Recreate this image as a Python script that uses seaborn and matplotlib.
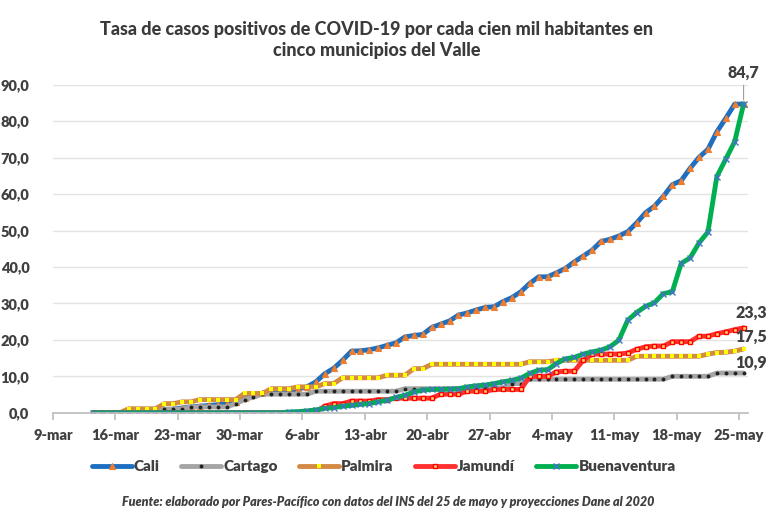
import numpy as np
import pandas as pd
import seaborn as sns
import matplotlib.pyplot as plt
import matplotlib.ticker as mticker

# tasas diarias por cada 100.000 habitantes, 13-mar a 25-may 2020
cali = [0, 0, 0, 0, 0, 0, 0, 0.3, 0.5, 1.0, 1.3, 1.6, 1.8, 2.0, 2.2, 2.5, 3.0, 4.0, 4.8, 5.3,
        5.6, 5.8, 6.0, 6.5, 7.1, 8.5, 10.7, 12.2, 14.4, 16.9, 17.0, 17.3, 17.8, 18.5, 19.2, 20.8, 21.2, 21.5, 23.4, 24.3,
        25.2, 26.8, 27.4, 28.2, 28.9, 29.1, 30.5, 31.6, 33.2, 35.5, 37.3, 37.3, 38.4, 39.6, 41.4, 43.0, 44.6, 47.0, 47.6, 48.5,
        49.7, 52.1, 54.9, 56.7, 59.4, 62.6, 63.7, 67.1, 70.1, 72.3, 77.1, 80.8, 84.7, 84.7]
cartago = [0, 0, 0, 0, 0, 0, 0, 0, 1.0, 1.0, 1.0, 1.6, 1.6, 1.6, 1.6, 1.6, 2.5, 3.6, 4.3, 5.1,
           5.1, 5.1, 5.1, 5.1, 5.1, 5.9, 5.9, 5.9, 5.9, 5.9, 5.9, 5.9, 5.9, 5.9, 5.9, 6.6, 6.6, 6.6, 6.6, 6.6,
           6.6, 6.6, 6.6, 6.8, 6.8, 6.8, 6.8, 8.0, 8.0, 9.2, 9.2, 9.2, 9.2, 9.2, 9.2, 9.2, 9.2, 9.2, 9.2, 9.2,
           9.2, 9.2, 9.2, 9.2, 9.2, 10.0, 10.0, 10.0, 10.0, 10.0, 10.9, 10.9, 10.9, 10.9]
palmira = [0, 0, 0, 0, 1.1, 1.1, 1.1, 1.1, 2.5, 2.5, 3.0, 3.0, 3.6, 3.6, 3.6, 3.6, 3.6, 5.3, 5.3, 5.3,
           6.6, 6.6, 6.6, 7.1, 7.1, 7.1, 8.0, 8.0, 9.6, 9.6, 9.6, 9.6, 9.6, 10.3, 10.3, 10.3, 12.1, 12.1, 13.3, 13.3,
           13.3, 13.3, 13.3, 13.3, 13.3, 13.3, 13.3, 13.3, 13.3, 14.0, 14.0, 14.0, 14.4, 14.4, 14.4, 14.4, 14.4, 14.4, 14.4, 14.4,
           14.4, 15.5, 15.5, 15.5, 15.5, 15.5, 15.5, 15.5, 15.5, 16.1, 16.5, 16.6, 16.9, 17.5]
jamundi = [0, 0, 0, 0, 0, 0, 0, 0, 0, 0, 0, 0, 0, 0, 0, 0, 0, 0, 0, 0,
           0, 0, 0, 0, 0.2, 0.3, 1.8, 2.5, 2.5, 3.2, 3.2, 3.2, 3.6, 3.6, 4.0, 4.0, 4.0, 4.0, 4.0, 5.1,
           5.1, 5.1, 5.9, 5.9, 5.9, 6.4, 6.4, 6.4, 6.4, 10.0, 10.0, 10.0, 11.2, 11.4, 11.4, 14.4, 16.1, 16.1, 16.1, 16.1,
           16.4, 17.4, 18.1, 18.3, 18.3, 19.5, 19.5, 19.5, 21.0, 21.0, 21.7, 22.2, 22.8, 23.3]
buenaventura = [0, 0, 0, 0, 0, 0, 0, 0, 0, 0, 0, 0, 0, 0, 0, 0, 0, 0, 0, 0,
                0, 0, 0.2, 0.3, 0.5, 0.8, 1.2, 1.4, 1.8, 2.0, 2.3, 2.5, 3.0, 3.4, 4.2, 4.8, 5.7, 6.2, 6.4, 6.4,
                6.5, 6.6, 7.1, 7.4, 7.6, 8.0, 8.5, 8.9, 9.5, 10.8, 11.7, 11.8, 13.5, 14.8, 15.2, 16.1, 16.7, 17.2, 18.1, 19.9,
                25.4, 27.5, 29.2, 30.2, 32.7, 33.2, 41.0, 42.5, 46.6, 49.6, 64.8, 69.6, 74.4, 84.7]

fechas = pd.date_range("2020-03-13 12:00", periods=len(cali), freq="D")
ticks = pd.date_range("2020-03-09", "2020-05-25", freq="7D")
tick_labels = ["9-mar", "16-mar", "23-mar", "30-mar", "6-abr", "13-abr", "20-abr",
               "27-abr", "4-may", "11-may", "18-may", "25-may"]

series = [
    ("Cali", cali, "#1F6FC0", "^", "#ED7D31", "#ED7D31", 3.8, 0.8),
    ("Cartago", cartago, "#A5A5A5", "o", "#222222", "#222222", 2.8, 0),
    ("Palmira", palmira, "#D38A45", "s", "#FFFF00", "#FFFF00", 2.8, 0),
    ("Jamundí", jamundi, "#FF3030", "s", "#FFD966", "#FF0000", 3.2, 1),
    ("Buenaventura", buenaventura, "#00B050", "x", "#4472C4", "#4472C4", 4, 1),
]

sns.set_theme(style="white")
plt.rcParams["font.family"] = ["Lato", "DejaVu Sans"]

fig = plt.figure(figsize=(7.68, 5.14), dpi=100)
ax = fig.add_axes([0.069, 0.197, 0.905, 0.638])

for name, vals, lc, mk, mfc, mec, ms, mew in series:
    df = pd.DataFrame({"fecha": fechas, "tasa": vals})
    sns.lineplot(x="fecha", y="tasa", data=df, ax=ax, color=lc, linewidth=3.5,
                 marker=mk, markersize=ms, markerfacecolor=mfc, markeredgecolor=mec,
                 markeredgewidth=mew, label=name)

ax.set_xlim(pd.Timestamp("2020-03-09"), pd.Timestamp("2020-05-26"))
ax.set_ylim(0, 90)
ax.set_xticks(ticks)
ax.set_xticklabels(tick_labels)
ax.set_yticks(np.arange(0, 91, 10))
ax.yaxis.set_major_formatter(mticker.FuncFormatter(lambda v, p: f"{v:.1f}".replace(".", ",")))
ax.grid(axis="y", color="#E3E3E3", linewidth=1)
ax.set_xlabel("")
ax.set_ylabel("")
for s in ["top", "right", "left"]:
    ax.spines[s].set_visible(False)
ax.spines["bottom"].set_color("#BFBFBF")
ax.tick_params(axis="x", bottom=True, length=5, color="#BFBFBF", pad=7,
               labelsize=10.5, labelcolor="#404040")
ax.tick_params(axis="y", left=False, pad=11, labelsize=10.5, labelcolor="#404040")
for lab in ax.get_xticklabels() + ax.get_yticklabels():
    lab.set_fontweight("heavy")

# etiquetas finales
last = fechas[-1]
ax.annotate(f"{cali[-1]:.1f}".replace(".", ","), xy=(last, cali[-1]), xytext=(0, 17),
            textcoords="offset points", ha="center", va="bottom", fontsize=11.5,
            fontweight="heavy", color="#404040",
            arrowprops=dict(arrowstyle="-", color="#A0A0A0", lw=0.8, shrinkA=1, shrinkB=3))
for vals, dy in [(jamundi, 5), (palmira, 3), (cartago, 2)]:
    ax.annotate(f"{vals[-1]:.1f}".replace(".", ","), xy=(last, vals[-1]), xytext=(-6, dy),
                textcoords="offset points", ha="left", va="bottom", fontsize=11.5,
                fontweight="heavy", color="#404040", annotation_clip=False)

ax.legend(loc="center", bbox_to_anchor=(0.476, -0.165), ncol=5, frameon=False,
          handlelength=2.6, handletextpad=0.15, columnspacing=1.4,
          prop={"weight": "heavy", "size": 11, "family": ["Lato", "DejaVu Sans"]})
for t in ax.get_legend().get_texts():
    t.set_color("#404040")

fig.text(0.49, 0.96, "Tasa de casos positivos de COVID-19 por cada cien mil habitantes en\ncinco municipios del Valle",
         ha="center", va="top", fontsize=13, fontweight="black", color="#3A3A3A", linespacing=1.3)
fig.text(0.506, 0.012, "Fuente: elaborado por Pares-Pacífico con datos del INS del 25 de mayo y proyecciones Dane al 2020",
         ha="center", va="bottom", fontsize=9, fontstyle="italic", fontweight="heavy", color="#404040")

plt.savefig("out.png", dpi=100)
